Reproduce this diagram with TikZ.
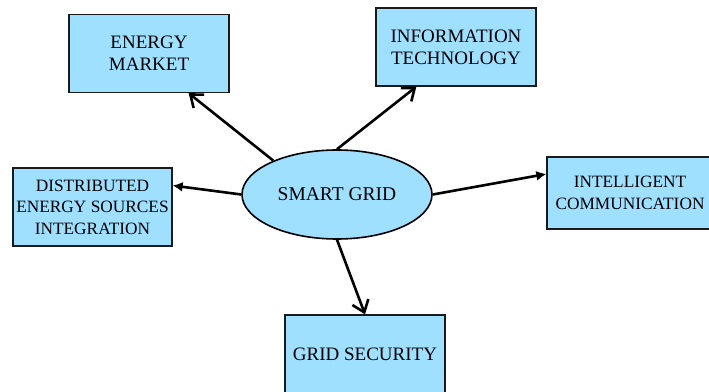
\documentclass[tikz,border=0pt]{standalone}
\usepackage{fontspec}
\setmainfont{Liberation Serif}
\usetikzlibrary{shapes.geometric, arrows.meta}

\begin{document}
\begin{tikzpicture}[x=1pt, y=1pt]
    % Define colors
    \definecolor{borderColour}{HTML}{1A1A1A}
    \definecolor{fillColour}{HTML}{9FDFFF}

    % Define styles
    \tikzset{
        topic/.style={draw=borderColour, fill=fillColour, line width=1.3pt, rectangle, align=center,
            minimum width=160pt, minimum height=78pt, inner sep=2pt, text=black,
            font=\fontsize{19}{22}\selectfont},
        smalltopic/.style={topic, font=\fontsize{17.3}{21.5}\selectfont},
        hub/.style={draw=black, fill=fillColour, line width=1.6pt, ellipse,
            minimum width=190pt, minimum height=89pt, inner sep=0pt,
            font=\fontsize{19.5}{22}\selectfont},
        link/.style={line width=2.6pt, -{Straight Barb[length=11pt, width=17pt, line width=2.6pt]}},
        smalllink/.style={line width=2.6pt, -{Latex[length=10pt, width=10pt]}}
    }

    % Fix the page size
    \useasboundingbox (0,0) rectangle (709,391);

    % Draw the centre
    \node[hub] (sg) at (337,196.5) {SMART GRID};

    % Draw the topics
    \node[topic] (em) at (149,337.5) {ENERGY\\MARKET};
    \node[topic] (it) at (456,344) {INFORMATION\\TECHNOLOGY};
    \node[smalltopic, minimum width=159pt] (des) at (92.5,184) {DISTRIBUTED\\ENERGY SOURCES\\INTEGRATION};
    \node[smalltopic, minimum width=166pt, minimum height=72pt] (ic) at (630,198) {INTELLIGENT\\COMMUNICATION};
    \node[topic] (sec) at (365,37) {GRID SECURITY};

    % Draw the links
    \draw[link] (sg.152) -- (em.-45);
    \draw[link] (sg.north) -- (it.225);
    \draw[smalllink] (sg.west) -- (des.15);
    \draw[smalllink] (sg.east) -- ([yshift=19pt]ic.west);
    \draw[link] (sg.south) -- (sec.north);

\end{tikzpicture}
\end{document}
